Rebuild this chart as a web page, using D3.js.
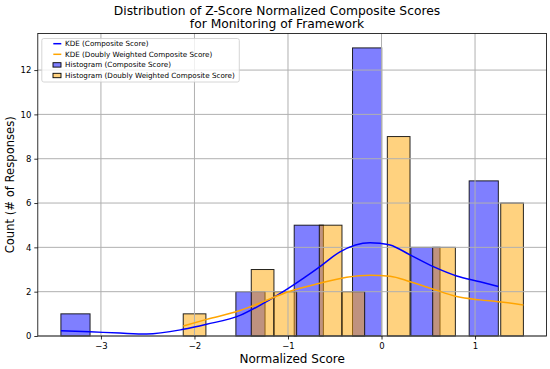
<!DOCTYPE html>
<html>
<head>
<meta charset="utf-8">
<script src="https://cdn.jsdelivr.net/npm/d3@7"></script>
<style>
  body { margin: 0; background: #fff; }
  text { font-family: "DejaVu Sans", sans-serif; }
</style>
</head>
<body>
<svg id="chart" width="550" height="369"></svg>
<script>
            // histogram bins (15 each, from min to max of the data)
            var blueRange = [-3.428, 1.249];
            var blueCounts = [1, 0, 0, 0, 0, 0, 2, 0, 5, 0, 13, 0, 4, 0, 7];
            var orangeRange = [-2.120, 1.517];
            var orangeCounts = [1, 0, 0, 3, 2, 0, 5, 2, 0, 9, 0, 4, 0, 0, 6];

            // KDE curves (x, count)
            var blueKdeX = [-3.428, -3.118, -2.797, -2.511, -2.120, -1.870, -1.513, -1.264, -0.997, -0.658, -0.444, -0.123, -0.016, 0.091, 0.305, 0.554, 0.804, 1.053, 1.249];
            var blueKdeY = [0.24, 0.19, 0.13, 0.09, 0.30, 0.53, 0.93, 1.47, 2.15, 3.13, 3.80, 4.21, 4.18, 4.11, 3.66, 3.13, 2.71, 2.45, 2.23];
            var orangeKdeX = [-2.120, -1.870, -1.513, -1.264, -0.997, -0.658, -0.372, -0.123, 0.091, 0.305, 0.554, 0.804, 1.053, 1.249, 1.517];
            var orangeKdeY = [0.45, 0.75, 1.15, 1.55, 2.00, 2.38, 2.65, 2.74, 2.70, 2.45, 2.11, 1.78, 1.63, 1.55, 1.40];

            var xTicks = [-3, -2, -1, 0, 1];
            var yTicks = [0, 2, 4, 6, 8, 10, 12];
            var legendLabels = ["KDE (Composite Score)", "KDE (Doubly Weighted Composite Score)",
                                "Histogram (Composite Score)", "Histogram (Doubly Weighted Composite Score)"];

            var w = 550, h = 369;
            var margin = {top: 33.5, right: 3.5, bottom: 33, left: 37.8};
            var pw = w - margin.left - margin.right;
            var ph = h - margin.top - margin.bottom;

            var svg = d3.select("#chart");
            var g = svg.append("g").attr("transform", "translate(" + margin.left + "," + margin.top + ")");

            var x = d3.scaleLinear().domain([-3.675, 1.764]).range([0, pw]);
            var y = d3.scaleLinear().domain([0, 13.65]).range([ph, 0]);

            function bins(range, counts) {
                var step = (range[1] - range[0]) / counts.length;
                return counts.map(function(c, i) {
                    return {x0: range[0] + i * step, x1: range[0] + (i + 1) * step, n: c};
                });
            }

            function drawBars(data, color) {
                g.append("g").selectAll("rect")
                   .data(data.filter(function(d) { return d.n > 0; }))
                   .enter()
                   .append("rect")
                   .attr("x", function(d) { return x(d.x0); })
                   .attr("y", function(d) { return y(d.n); })
                   .attr("width", function(d) { return x(d.x1) - x(d.x0); })
                   .attr("height", function(d) { return y(0) - y(d.n); })
                   .attr("fill", color)
                   .attr("fill-opacity", 0.5)
                   .attr("stroke", "#000")
                   .attr("stroke-opacity", 0.85)
                   .attr("stroke-width", 1);
            }

            drawBars(bins(blueRange, blueCounts), "blue");
            drawBars(bins(orangeRange, orangeCounts), "orange");

            // grid on top of bars, below lines
            g.append("g").selectAll("line.gx")
               .data(xTicks).enter().append("line")
               .attr("x1", function(d) { return x(d); }).attr("x2", function(d) { return x(d); })
               .attr("y1", 0).attr("y2", ph)
               .attr("stroke", "#b0b0b0").attr("stroke-width", 1);
            g.append("g").selectAll("line.gy")
               .data(yTicks).enter().append("line")
               .attr("y1", function(d) { return y(d); }).attr("y2", function(d) { return y(d); })
               .attr("x1", 0).attr("x2", pw)
               .attr("stroke", "#b0b0b0").attr("stroke-width", 1);

            var line = d3.line()
                .x(function(d) { return x(d[0]); })
                .y(function(d) { return y(d[1]); })
                .curve(d3.curveMonotoneX);

            g.append("path")
               .datum(blueKdeX.map(function(v, i) { return [v, blueKdeY[i]]; }))
               .attr("d", line).attr("fill", "none")
               .attr("stroke", "blue").attr("stroke-width", 1.5);
            g.append("path")
               .datum(orangeKdeX.map(function(v, i) { return [v, orangeKdeY[i]]; }))
               .attr("d", line).attr("fill", "none")
               .attr("stroke", "orange").attr("stroke-width", 1.5);

            // axes
            var xAxis = g.append("g").attr("transform", "translate(0," + ph + ")")
               .call(d3.axisBottom(x).tickValues(xTicks).tickSize(3.5).tickPadding(3).tickFormat(d3.format("d")));
            var yAxis = g.append("g")
               .call(d3.axisLeft(y).tickValues(yTicks).tickSize(3.5).tickPadding(3).tickFormat(d3.format("d")));
            [xAxis, yAxis].forEach(function(a) {
                a.select(".domain").remove();
                a.selectAll("text").attr("font-size", "8.5px").attr("fill", "#000")
                   .attr("font-family", "DejaVu Sans, sans-serif");
                a.selectAll("line").attr("stroke", "#000").attr("stroke-width", 0.8);
            });

            g.append("rect")
               .attr("width", pw).attr("height", ph)
               .attr("fill", "none").attr("stroke", "#000").attr("stroke-width", 0.8);

            // legend
            var lg = g.append("g").attr("transform", "translate(4,5)");
            lg.append("rect")
               .attr("width", 197.5).attr("height", 43.5).attr("rx", 2)
               .attr("fill", "#fff").attr("fill-opacity", 0.8)
               .attr("stroke", "#ccc").attr("stroke-width", 0.8);
            var legendColors = ["blue", "orange", "blue", "orange"];
            legendLabels.forEach(function(label, i) {
                var ly = 5.2 + i * 10.6;
                if (i < 2) {
                    lg.append("line")
                       .attr("x1", 11.5).attr("x2", 19.5).attr("y1", ly).attr("y2", ly)
                       .attr("stroke", legendColors[i]).attr("stroke-width", 1.5);
                } else {
                    lg.append("rect")
                       .attr("x", 11.2).attr("y", ly - 2.2).attr("width", 8).attr("height", 4.4)
                       .attr("fill", legendColors[i]).attr("fill-opacity", 0.5)
                       .attr("stroke", "#000").attr("stroke-width", 0.9);
                }
                lg.append("text")
                   .attr("x", 23.2).attr("y", ly)
                   .attr("dy", "0.35em")
                   .attr("font-size", "7.2px")
                   .attr("fill", "#000")
                   .text(label);
            });

            // titles (title is centred on the figure, not the plot)
            svg.append("text")
               .attr("x", 277).attr("y", 15)
               .attr("text-anchor", "middle").attr("font-size", "12.3px")
               .text("Distribution of Z-Score Normalized Composite Scores");
            svg.append("text")
               .attr("x", 277).attr("y", 28)
               .attr("text-anchor", "middle").attr("font-size", "12.3px")
               .text("for Monitoring of Framework");
            svg.append("text")
               .attr("x", margin.left + pw / 2).attr("y", 363)
               .attr("text-anchor", "middle").attr("font-size", "12px")
               .text("Normalized Score");
            svg.append("text")
               .attr("transform", "translate(14," + (margin.top + ph / 2) + ") rotate(-90)")
               .attr("text-anchor", "middle").attr("font-size", "11.6px")
               .text("Count (# of Responses)");
</script>
</body>
</html>
